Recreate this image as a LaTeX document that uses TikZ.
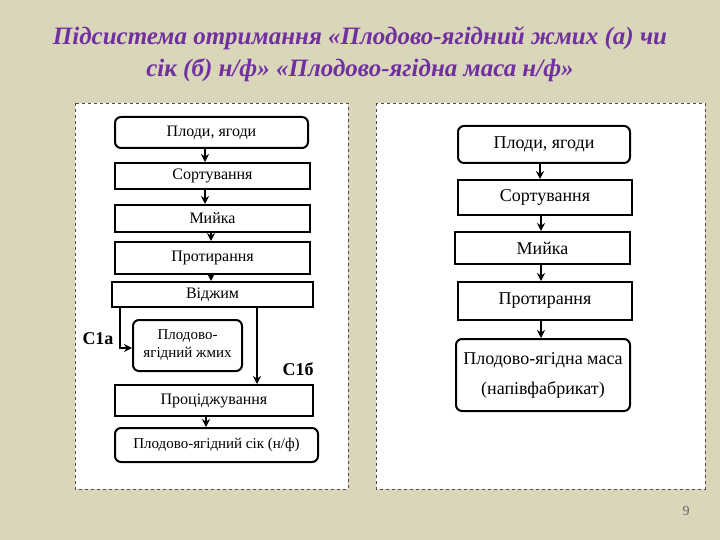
\documentclass[tikz,border=0pt]{standalone}
\usepackage{fontspec}
\setmainfont{Liberation Serif}
\usetikzlibrary{arrows.meta}
\definecolor{bg}{RGB}{218,214,186}
\definecolor{ttl}{RGB}{112,48,160}
\begin{document}
\begin{tikzpicture}[x=1pt,y=-1pt,
  panel/.style={draw=black!70,dashed,fill=white,line width=0.7pt},
  sq/.style={draw,line width=2pt,minimum height=#1,inner sep=0pt},
  rd/.style={sq=#1,rounded corners=6pt},
  arr/.style={-{Stealth[length=8pt,width=8pt]},line width=1.3pt},
  lt/.style={font=\fontsize{16}{17}\selectfont},
  rt/.style={font=\fontsize{18}{20}\selectfont}]
\fill[bg] (0,0) rectangle (720,540);
\useasboundingbox (0,0) rectangle (720,540);
\node[ttl,font=\fontsize{25}{32}\selectfont\bfseries\itshape,align=center] (title) at (360,54)
 {Підсистема отримання «Плодово-ягідний жмих (а) чи\\сік (б) н/ф» «Плодово-ягідна маса н/ф»};
\draw[panel] (75,103) rectangle (348,489);
\draw[panel] (376,103) rectangle (705,489);
% left
\node[rd=31pt,minimum width=193pt,lt] (l1) at (211.5,132.5) {Плоди, ягоди};
\node[sq=26pt,minimum width=195pt,lt] (l2) at (212.5,176) {Сортування};
\node[sq=27pt,minimum width=195pt,lt] (l3) at (212.5,218.5) {Мийка};
\node[sq=32pt,minimum width=195pt,lt] (l4) at (212.5,258) {Протирання};
\node[sq=25pt,minimum width=201pt,lt] (l5) at (212.5,294.5) {Віджим};
\node[rd=51pt,minimum width=109pt,lt,align=center,font=\fontsize{15}{18}\selectfont] (l6) at (187.5,345.5) {Плодово-\\ягідний жмих};
\node[sq=31pt,minimum width=198pt,lt] (l7) at (214,400.5) {Проціджування};
\node[rd=34pt,minimum width=203pt,lt,font=\fontsize{15}{17}\selectfont] (l8) at (216.5,445) {Плодово-ягідний сік (н/ф)};
\draw[arr] (l1.south -| 205,0) -- (l2.north -| 205,0);
\draw[arr] (l2.south -| 205,0) -- (l3.north -| 205,0);
\draw[arr] (l3.south -| 211,0) -- (l4.north -| 211,0);
\draw[arr] (l4.south -| 211,0) -- (l5.north -| 211,0);
\draw[arr] (l7.south -| 206,0) -- (l8.north -| 206,0);
\coordinate (c1) at (120,348);
\draw[arr] (l5.south -| c1) -- (c1) -- (c1 -| l6.west);
\draw[arr] (l5.south -| 257,0) -- (l7.north -| 257,0);
\node[font=\fontsize{18}{18}\selectfont\bfseries] (ca) at (98,339) {C1a};
\node[font=\fontsize{18}{18}\selectfont\bfseries] (cb) at (298,369) {C1б};
% right
\node[rd=37pt,minimum width=172pt,rt] (r1) at (544,144.5) {Плоди, ягоди};
\node[sq=35pt,minimum width=174pt,rt] (r2) at (545,197.5) {Сортування};
\node[sq=32pt,minimum width=175pt,rt] (r3) at (542.5,248) {Мийка};
\node[sq=38pt,minimum width=174pt,rt] (r4) at (545,301) {Протирання};
\node[rd=72pt,minimum width=174pt,rt,align=center,font=\fontsize{18}{30}\selectfont] (r5) at (543,375) {Плодово-ягідна маса\\(напівфабрикат)};
\draw[arr] (r1.south -| 540,0) -- (r2.north -| 540,0);
\draw[arr] (r2.south -| 541,0) -- (r3.north -| 541,0);
\draw[arr] (r3.south -| 541,0) -- (r4.north -| 541,0);
\draw[arr] (r4.south -| 541,0) -- (r5.north -| 541,0);
\node[black!60,font=\fontsize{14}{14}\selectfont] (pg) at (686,511) {9};
\end{tikzpicture}
\end{document}
